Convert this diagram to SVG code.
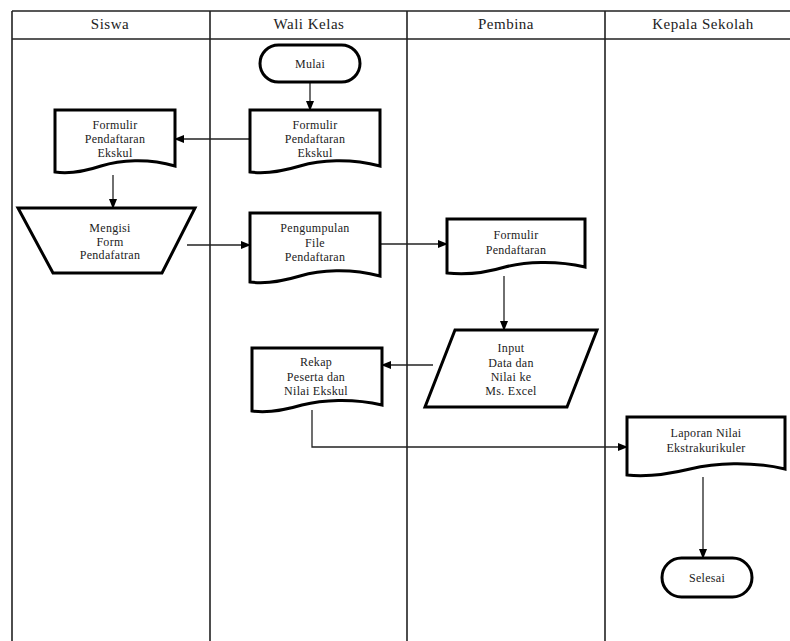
<svg xmlns="http://www.w3.org/2000/svg" width="790" height="641" viewBox="0 0 790 641">
<style>
.lane{stroke:#222;stroke-width:1.6;fill:none}
.hdr{font-family:"Liberation Serif","DejaVu Serif","Times New Roman",serif;font-size:15px;fill:#222;text-anchor:middle;letter-spacing:0.5px}
.shape{fill:#fff;stroke:#000;stroke-width:3;stroke-linejoin:miter}
.t{font-family:"Liberation Serif","DejaVu Serif","Times New Roman",serif;font-size:12px;fill:#222;text-anchor:middle;letter-spacing:0.3px}
.con{stroke:#222;stroke-width:1.3;fill:none}
</style>
<defs>
<marker id="ah" markerWidth="10" markerHeight="8" refX="9" refY="4" orient="auto" markerUnits="userSpaceOnUse">
<path d="M0,0 L10,4 L0,8 Z" fill="#000"/>
</marker>
</defs>
<rect width="790" height="641" fill="#fff"/>
<g id="lanes">
<path class="lane" d="M12,11 H790 M12,39 H790 M12,11 V641 M210,11 V641 M407,11 V641 M605,11 V641"/>
<text class="hdr" x="110" y="29" font-family="Liberation Serif, serif">Siswa</text>
<text class="hdr" x="309" y="29" font-family="Liberation Serif, serif">Wali Kelas</text>
<text class="hdr" x="506" y="29" font-family="Liberation Serif, serif">Pembina</text>
<text class="hdr" x="703" y="29" font-family="Liberation Serif, serif">Kepala Sekolah</text>
</g>
<g id="connectors">
<path class="con" d="M310,82 V110" marker-end="url(#ah)"/>
<path class="con" d="M250,139 H175" marker-end="url(#ah)"/>
<path class="con" d="M113,175 V208" marker-end="url(#ah)"/>
<path class="con" d="M187,245 H250" marker-end="url(#ah)"/>
<path class="con" d="M380,244 H447" marker-end="url(#ah)"/>
<path class="con" d="M504,276 V330" marker-end="url(#ah)"/>
<path class="con" d="M433,365 H382" marker-end="url(#ah)"/>
<path class="con" d="M312,410 V447 H627" marker-end="url(#ah)"/>
<path class="con" d="M703,477 V558" marker-end="url(#ah)"/>
</g>
<g id="mulai">
<rect class="shape" x="260" y="45" width="100" height="37" rx="18.5"/>
<text class="t" x="310" y="68">Mulai</text>
</g>
<g id="formulir-wali">
<path class="shape" d="M250,110 H380 V166 C350,158 320,160 300,166 C280,172 265,174 250,172 Z"/>
<text class="t" x="315" y="129">Formulir</text>
<text class="t" x="315" y="143">Pendaftaran</text>
<text class="t" x="315" y="157">Ekskul</text>
</g>
<g id="formulir-siswa">
<path class="shape" d="M55,110 H175 V166 C148,158 120,160 101,166 C83,172 69,174 55,172 Z"/>
<text class="t" x="115" y="129">Formulir</text>
<text class="t" x="115" y="143">Pendaftaran</text>
<text class="t" x="115" y="157">Ekskul</text>
</g>
<g id="mengisi">
<path class="shape" d="M18,208 H195 L162,273 H53 Z"/>
<text class="t" x="110" y="232">Mengisi</text>
<text class="t" x="110" y="245.5">Form</text>
<text class="t" x="110" y="259">Pendafatran</text>
</g>
<g id="pengumpulan">
<path class="shape" d="M250,213 H380 V276 C350,268 320,270 300,276 C280,282 265,284 250,282 Z"/>
<text class="t" x="315" y="232">Pengumpulan</text>
<text class="t" x="315" y="247">File</text>
<text class="t" x="315" y="261">Pendaftaran</text>
</g>
<g id="formulir-pembina">
<path class="shape" d="M447,219 H585 V267 C555,260 525,262 505,267 C485,273 465,275 447,273 Z"/>
<text class="t" x="516" y="239">Formulir</text>
<text class="t" x="516" y="254">Pendaftaran</text>
</g>
<g id="input">
<path class="shape" d="M455,330 H597 L567,407 H425 Z"/>
<text class="t" x="511" y="352">Input</text>
<text class="t" x="511" y="367">Data dan</text>
<text class="t" x="511" y="381">Nilai ke</text>
<text class="t" x="511" y="395">Ms. Excel</text>
</g>
<g id="rekap">
<path class="shape" d="M252,348 H382 V405 C352,398 322,400 302,405 C282,411 267,413 252,411 Z"/>
<text class="t" x="316" y="366">Rekap</text>
<text class="t" x="316" y="381">Peserta dan</text>
<text class="t" x="316" y="395">Nilai Ekskul</text>
</g>
<g id="laporan">
<path class="shape" d="M627,417 H785 V469 C750,461 715,463 690,469 C665,475 645,477 627,475 Z"/>
<text class="t" x="706" y="437">Laporan Nilai</text>
<text class="t" x="706" y="452">Ekstrakurikuler</text>
</g>
<g id="selesai">
<rect class="shape" x="662" y="558" width="90" height="39" rx="19.5"/>
<text class="t" x="707" y="582">Selesai</text>
</g>
</svg>
